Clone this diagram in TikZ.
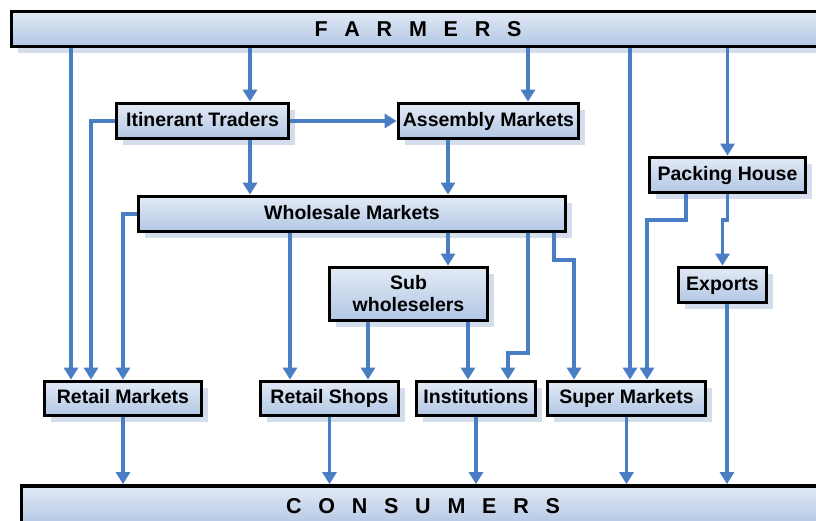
\documentclass[tikz,border=0pt]{standalone}
\usepackage{fontspec}
\setmainfont{Liberation Sans}
\usetikzlibrary{arrows.meta,shadows}
\definecolor{flowblue}{RGB}{74,126,196}
\definecolor{boxtop}{RGB}{226,234,245}
\definecolor{boxbot}{RGB}{178,198,228}
\definecolor{shadeblue}{RGB}{200,212,230}
\newcommand{\lgap}{\hspace{0.78em}}
\begin{document}
\begin{tikzpicture}[x=1pt,y=-1pt,
    box/.style={draw=black,line width=3.8pt,rectangle,inner sep=2pt,
      top color=boxtop,bottom color=boxbot,
      drop shadow={shadow xshift=6pt,shadow yshift=-6pt,fill=shadeblue,opacity=.8},
      font=\fontsize{19.5}{22}\selectfont\bfseries,align=center},
    onerow/.style={box,text height=14pt,text depth=4pt},
    bar/.style={box,minimum height=35pt,font=\fontsize{21.5}{24}\selectfont\bfseries},
    flow/.style={draw=flowblue,line width=3.8pt,-{Triangle[width=14pt,length=12pt]}}]
  \useasboundingbox (0,0) rectangle (816,520);

  \node[bar,minimum width=813pt] (farmers) at (418,29)
    {F\lgap A\lgap R\lgap M\lgap E\lgap R\lgap S};
  \node[bar,minimum width=803pt,minimum height=40pt] (consumers) at (423,506)
    {C\lgap O\lgap N\lgap S\lgap U\lgap M\lgap E\lgap R\lgap S};

  \node[onerow,minimum width=172pt,minimum height=35pt] (itin) at (202.5,121) {Itinerant Traders};
  \node[onerow,minimum width=180pt,minimum height=35pt] (assembly) at (488.5,121) {Assembly Markets};
  \node[onerow,minimum width=427pt,minimum height=35pt] (wholesale) at (352,214) {Wholesale Markets};
  \node[onerow,minimum width=156pt,minimum height=35pt] (packing) at (727.5,175) {Packing House};
  \node[box,minimum width=158pt,minimum height=53pt] (sub) at (408.5,294) {Sub\\wholeselers};
  \node[onerow,minimum width=88pt,minimum height=35pt] (exports) at (722.5,285) {Exports};

  \node[onerow,minimum width=157pt,minimum height=34pt] (retailm) at (123,398.5) {Retail Markets};
  \node[onerow,minimum width=138pt,minimum height=34pt] (retails) at (329.5,398.5) {Retail Shops};
  \node[onerow,minimum width=119pt,minimum height=34pt] (inst) at (476,398.5) {Institutions};
  \node[onerow,minimum width=158pt,minimum height=34pt] (super) at (626.5,398.5) {Super Markets};

  % from farmers
  \draw[flow] (71,0 |- farmers.south) -- (71,0 |- retailm.north);
  \draw[flow] (250,0 |- farmers.south) -- (250,0 |- itin.north);
  \draw[flow] (528,0 |- farmers.south) -- (528,0 |- assembly.north);
  \draw[flow] (630,0 |- farmers.south) -- (630,0 |- super.north);
  \draw[flow] (packing.north |- farmers.south) -- (packing.north);

  % traders and assembly
  \draw[flow] (itin.east) -- (assembly.west);
  \draw[flow] (itin.west) -| (91,0 |- retailm.north);
  \draw[flow] (250,0 |- itin.south) -- (250,0 |- wholesale.north);
  \draw[flow] (448,0 |- assembly.south) -- (448,0 |- wholesale.north);

  % wholesale
  \draw[flow] (wholesale.west) -| (retailm.north);
  \draw[flow] (290,0 |- wholesale.south) -- (290,0 |- retails.north);
  \draw[flow] (448,0 |- wholesale.south) -- (448,0 |- sub.north);
  \draw[flow] (528,0 |- wholesale.south) -- (528,353) -| (508,0 |- inst.north);
  \draw[flow] (554,0 |- wholesale.south) -- (554,260) -| (574,0 |- super.north);

  % sub wholeselers and packing house
  \draw[flow] (368,0 |- sub.south) -- (368,0 |- retails.north);
  \draw[flow] (468,0 |- sub.south) -- (468,0 |- inst.north);
  \draw[flow] (686,0 |- packing.south) -- (686,220) -| (647,0 |- super.north);
  \draw[flow] (packing.south) -- (packing.south |- 0,220) -| (exports.north);

  % to consumers
  \draw[flow] (retailm.south) -- (retailm.south |- consumers.north);
  \draw[flow] (retails.south) -- (retails.south |- consumers.north);
  \draw[flow] (inst.south) -- (inst.south |- consumers.north);
  \draw[flow] (super.south) -- (super.south |- consumers.north);
  \draw[flow] (727,0 |- exports.south) -- (727,0 |- consumers.north);
\end{tikzpicture}
\end{document}
